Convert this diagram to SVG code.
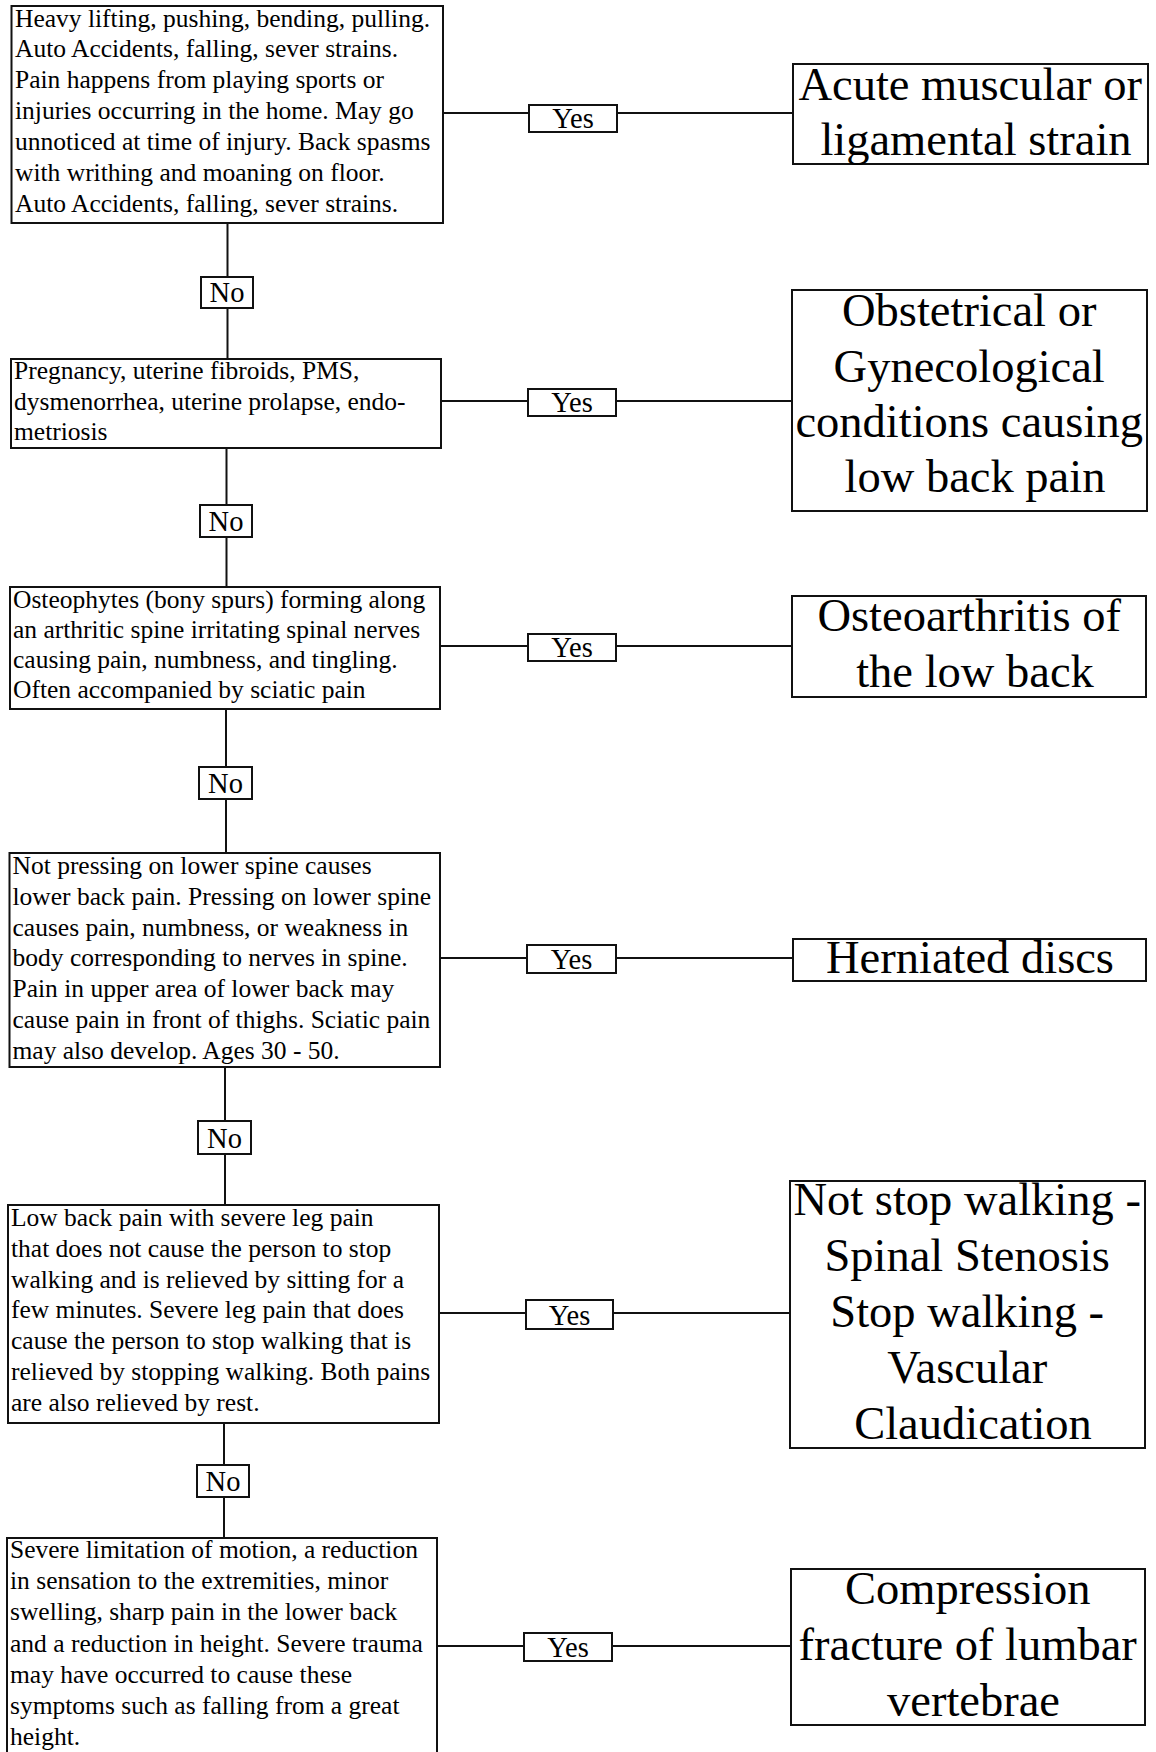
<svg xmlns="http://www.w3.org/2000/svg" width="1156" height="1752" viewBox="0 0 1156 1752">
  <style>
    .box { fill: #fff; stroke: #111; stroke-width: 2; }
    .wire { fill: none; stroke: #111; stroke-width: 2; }
    .body { font-family: "Liberation Serif", "Times New Roman", serif; font-size: 25.5px; fill: #000; }
    .big { font-family: "Liberation Serif", "Times New Roman", serif; font-size: 46.5px; fill: #000; text-anchor: middle; }
    .lbl { font-family: "Liberation Serif", "Times New Roman", serif; font-size: 28.5px; fill: #000; text-anchor: middle; }
  </style>
  <rect width="1156" height="1752" fill="#fff"/>

  <!-- connector lines: "No" runs down the left column, "Yes" runs to the right -->
  <g id="connectors">
    <path class="wire" d="M227.5 223 V359"/>
    <path class="wire" d="M226.5 448 V587"/>
    <path class="wire" d="M226 709 V853"/>
    <path class="wire" d="M225 1067 V1205"/>
    <path class="wire" d="M224 1423 V1538"/>

    <path class="wire" d="M443 113 H529 M617 113 H793"/>
    <path class="wire" d="M441 401 H528 M616 401 H792"/>
    <path class="wire" d="M440 646 H528 M616 646 H792"/>
    <path class="wire" d="M440 958 H527 M616 958 H793"/>
    <path class="wire" d="M439 1313 H526 M613 1313 H790"/>
    <path class="wire" d="M437 1646 H524 M612 1646 H791"/>

    <!-- edge labels -->
    <g id="no1"><rect class="box" x="201" y="277" width="52" height="31"/><text class="lbl" x="227" y="302">No</text></g>
    <g id="no2"><rect class="box" x="200" y="505" width="52" height="32"/><text class="lbl" x="226" y="531">No</text></g>
    <g id="no3"><rect class="box" x="199" y="767" width="53" height="32"/><text class="lbl" x="225.5" y="793">No</text></g>
    <g id="no4"><rect class="box" x="198" y="1121" width="53" height="33"/><text class="lbl" x="224.5" y="1148">No</text></g>
    <g id="no5"><rect class="box" x="197" y="1465" width="52" height="32"/><text class="lbl" x="223" y="1491">No</text></g>

    <g id="yes1"><rect class="box" x="529" y="105" width="88" height="27"/><text class="lbl" x="573" y="128">Yes</text></g>
    <g id="yes2"><rect class="box" x="528" y="389" width="88" height="27"/><text class="lbl" x="572" y="412">Yes</text></g>
    <g id="yes3"><rect class="box" x="528" y="634" width="88" height="27"/><text class="lbl" x="572" y="657">Yes</text></g>
    <g id="yes4"><rect class="box" x="527" y="945" width="89" height="28"/><text class="lbl" x="571.5" y="969">Yes</text></g>
    <g id="yes5"><rect class="box" x="526" y="1300" width="87" height="29"/><text class="lbl" x="569.5" y="1325">Yes</text></g>
    <g id="yes6"><rect class="box" x="524" y="1633" width="88" height="28"/><text class="lbl" x="568" y="1657">Yes</text></g>
  </g>

  <!-- symptom boxes (left column) -->
  <g id="q1">
    <rect class="box" x="11.5" y="6" width="431.5" height="217"/>
    <text class="body">
      <tspan x="15" y="26.5">Heavy lifting, pushing, bending, pulling.</tspan>
      <tspan x="15" y="57.4">Auto Accidents, falling, sever strains.</tspan>
      <tspan x="15" y="88.3">Pain happens from playing sports or</tspan>
      <tspan x="15" y="119.2">injuries occurring in the home. May go</tspan>
      <tspan x="15" y="150.1">unnoticed at time of injury. Back spasms</tspan>
      <tspan x="15" y="181">with writhing and moaning on floor.</tspan>
      <tspan x="15" y="211.9">Auto Accidents, falling, sever strains.</tspan>
    </text>
  </g>

  <g id="q2">
    <rect class="box" x="11" y="359" width="430" height="89"/>
    <text class="body">
      <tspan x="14" y="379">Pregnancy, uterine fibroids, PMS,</tspan>
      <tspan x="14" y="409.5">dysmenorrhea, uterine prolapse, endo-</tspan>
      <tspan x="14" y="440">metriosis</tspan>
    </text>
  </g>

  <g id="q3">
    <rect class="box" x="10" y="587" width="430" height="122"/>
    <text class="body">
      <tspan x="13" y="608">Osteophytes (bony spurs) forming along</tspan>
      <tspan x="13" y="638">an arthritic spine irritating spinal nerves</tspan>
      <tspan x="13" y="668">causing pain, numbness, and tingling.</tspan>
      <tspan x="13" y="698">Often accompanied by sciatic pain</tspan>
    </text>
  </g>

  <g id="q4">
    <rect class="box" x="9.5" y="853" width="430.5" height="214"/>
    <text class="body">
      <tspan x="12.5" y="874">Not pressing on lower spine causes</tspan>
      <tspan x="12.5" y="905">lower back pain. Pressing on lower spine</tspan>
      <tspan x="12.5" y="936">causes pain, numbness, or weakness in</tspan>
      <tspan x="12.5" y="966">body corresponding to nerves in spine.</tspan>
      <tspan x="12.5" y="997">Pain in upper area of lower back may</tspan>
      <tspan x="12.5" y="1028">cause pain in front of thighs. Sciatic pain</tspan>
      <tspan x="12.5" y="1059">may also develop. Ages 30 - 50.</tspan>
    </text>
  </g>

  <g id="q5">
    <rect class="box" x="8" y="1205" width="431" height="218"/>
    <text class="body">
      <tspan x="11" y="1226">Low back pain with severe leg pain</tspan>
      <tspan x="11" y="1257">that does not cause the person to stop</tspan>
      <tspan x="11" y="1288">walking and is relieved by sitting for a</tspan>
      <tspan x="11" y="1318">few minutes. Severe leg pain that does</tspan>
      <tspan x="11" y="1349">cause the person to stop walking that is</tspan>
      <tspan x="11" y="1380">relieved by stopping walking. Both pains</tspan>
      <tspan x="11" y="1411">are also relieved by rest.</tspan>
    </text>
  </g>

  <g id="q6">
    <rect class="box" x="7" y="1538" width="430" height="230"/>
    <text class="body">
      <tspan x="10" y="1558">Severe limitation of motion, a reduction</tspan>
      <tspan x="10" y="1589.2">in sensation to the extremities, minor</tspan>
      <tspan x="10" y="1620.4">swelling, sharp pain in the lower back</tspan>
      <tspan x="10" y="1651.6">and a reduction in height. Severe trauma</tspan>
      <tspan x="10" y="1682.8">may have occurred to cause these</tspan>
      <tspan x="10" y="1714">symptoms such as falling from a great</tspan>
      <tspan x="10" y="1745">height.</tspan>
    </text>
  </g>

  <!-- diagnosis boxes (right column) -->
  <g id="d1">
    <rect class="box" x="793" y="64" width="355" height="100"/>
    <text class="big">
      <tspan x="976" y="99.5">Acute muscular or</tspan>
      <tspan x="976" y="154.5">ligamental strain</tspan>
    </text>
  </g>

  <g id="d2">
    <rect class="box" x="792" y="290" width="355" height="221"/>
    <text class="big">
      <tspan x="975" y="326">Obstetrical or</tspan>
      <tspan x="975" y="381.5">Gynecological</tspan>
      <tspan x="975" y="437">conditions causing</tspan>
      <tspan x="975" y="492">low back pain</tspan>
    </text>
  </g>

  <g id="d3">
    <rect class="box" x="792" y="596" width="354" height="101"/>
    <text class="big">
      <tspan x="975" y="631">Osteoarthritis of</tspan>
      <tspan x="975" y="687">the low back</tspan>
    </text>
  </g>

  <g id="d4">
    <rect class="box" x="793" y="939" width="353" height="42"/>
    <text class="big" x="970" y="973">Herniated discs</text>
  </g>

  <g id="d5">
    <rect class="box" x="790" y="1181" width="355" height="267"/>
    <text class="big">
      <tspan x="973" y="1215">Not stop walking -</tspan>
      <tspan x="973" y="1271">Spinal Stenosis</tspan>
      <tspan x="973" y="1327">Stop walking -</tspan>
      <tspan x="973" y="1383">Vascular</tspan>
      <tspan x="973" y="1439">Claudication</tspan>
    </text>
  </g>

  <g id="d6">
    <rect class="box" x="791" y="1569" width="354" height="156"/>
    <text class="big">
      <tspan x="973.5" y="1604">Compression</tspan>
      <tspan x="973.5" y="1660">fracture of lumbar</tspan>
      <tspan x="973.5" y="1716">vertebrae</tspan>
    </text>
  </g>
</svg>
